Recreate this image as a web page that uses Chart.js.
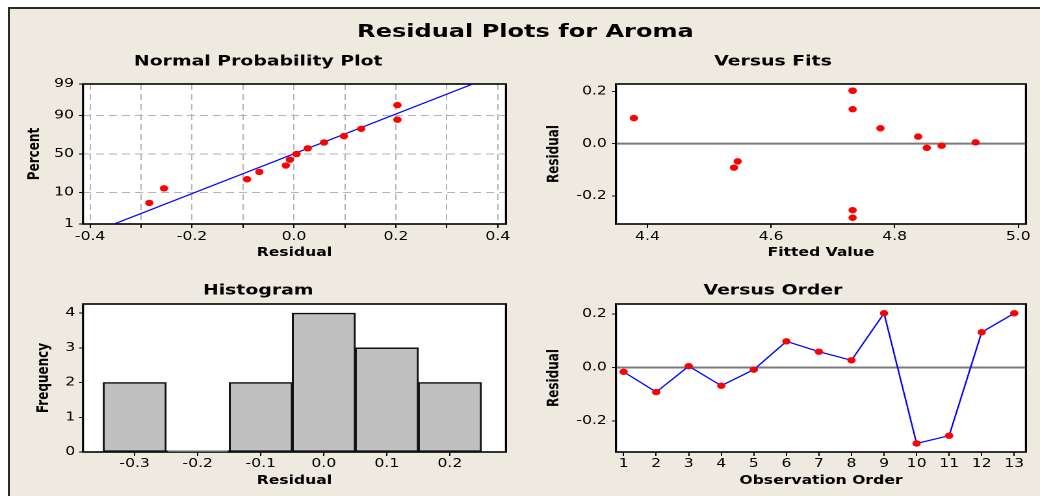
<!DOCTYPE html>
<html>
<head>
<meta charset="utf-8">
<script src="https://cdn.jsdelivr.net/npm/chart.js@4.4.1/dist/chart.umd.min.js"></script>
<style>
    html, body { margin: 0; padding: 0; background: #fff; overflow: hidden; width: 1040px; height: 496px; }
    #frame { position: absolute; left: 8px; top: 7px; width: 1100px; height: 600px; background: #eeeae0;
             border-top: 2px solid #2a2a2a; border-left: 2px solid #2a2a2a; }
    /* the whole sheet is drawn narrow and stretched sideways, like the source picture */
    #sheet { position: absolute; left: 0; top: 0; width: 800px; height: 496px; transform: scaleX(1.3); transform-origin: 0 0; }
    #sheet canvas { position: absolute; }
    #title { position: absolute; left: 0; width: 808.4px; top: 19.6px; text-align: center; color: #000;
             font: bold 18.5px/22px "DejaVu Sans", Verdana, sans-serif; }
</style>
</head>
<body>
<div id="frame"></div>
<div id="sheet">
    <div id="title">Residual Plots for Aroma</div>
    <canvas id="npp" width="390" height="225" style="left:8px;top:40px"></canvas>
    <canvas id="fits" width="400" height="225" style="left:400px;top:40px"></canvas>
    <canvas id="hist" width="390" height="228" style="left:8px;top:268px"></canvas>
    <canvas id="order" width="400" height="228" style="left:400px;top:268px"></canvas>
</div>
<script>
// residuals in observation order
var observation = [1, 2, 3, 4, 5, 6, 7, 8, 9, 10, 11, 12, 13];
var residual = [-0.016, -0.092, 0.005, -0.068, -0.008, 0.098, 0.059, 0.027, 0.203, -0.284, -0.255, 0.132, 0.203];
var fitted = [4.852, 4.540, 4.931, 4.546, 4.876, 4.378, 4.777, 4.838, 4.732, 4.732, 4.732, 4.732, 4.732];

// percent for the sorted residuals on the probability plot
var nppPercent = [5.2, 12.7, 20.1, 27.6, 35.1, 42.5, 50.0, 57.5, 64.9, 72.4, 79.9, 87.3, 94.8];
var fitLineResidual = [-0.353, 0.351];
var fitLinePercent = [1, 99];

var histBins = [-0.3, -0.2, -0.1, 0.0, 0.1, 0.2];
var histCounts = [2, 0, 2, 4, 3, 2];

var percentTicks = [1, 10, 50, 90, 99];
var nppResidualTicks = [-0.4, -0.3, -0.2, -0.1, 0, 0.1, 0.2, 0.3, 0.4];
var fittedTicks = [4.4, 4.6, 4.8, 5.0];
var residualTicks = [-0.2, 0, 0.2];
var histTicks = [-0.3, -0.2, -0.1, 0, 0.1, 0.2];
var frequencyTicks = [0, 1, 2, 3, 4];

Chart.defaults.font.family = "'DejaVu Sans', Verdana, sans-serif";
Chart.defaults.font.size = 12;
Chart.defaults.color = "#000";

// inverse normal cdf, for the probability axis
function probit(p) {
    var a = [-3.969683028665376e+01, 2.209460984245205e+02, -2.759285104469687e+02, 1.383577518672690e+02, -3.066479806614716e+01, 2.506628277459239e+00];
    var b = [-5.447609879822406e+01, 1.615858368580409e+02, -1.556989798598866e+02, 6.680131188771972e+01, -1.328068155288572e+01];
    var c = [-7.784894002430293e-03, -3.223964580411365e-01, -2.400758277161838e+00, -2.549732539343734e+00, 4.374664141464968e+00, 2.938163982698783e+00];
    var d = [7.784695709041462e-03, 3.224671290700398e-01, 2.445134137142996e+00, 3.754408661907416e+00];
    var q, r;
    if (p < 0.02425) {
        q = Math.sqrt(-2 * Math.log(p));
        return (((((c[0] * q + c[1]) * q + c[2]) * q + c[3]) * q + c[4]) * q + c[5]) / ((((d[0] * q + d[1]) * q + d[2]) * q + d[3]) * q + 1);
    }
    if (p > 1 - 0.02425) {
        return -probit(1 - p);
    }
    q = p - 0.5;
    r = q * q;
    return (((((a[0] * r + a[1]) * r + a[2]) * r + a[3]) * r + a[4]) * r + a[5]) * q / (((((b[0] * r + b[1]) * r + b[2]) * r + b[3]) * r + b[4]) * r + 1);
}

function pct(p) {
    return probit(p / 100);
}

// white plot area with a black frame, optional grey zero line
var plotFrame = {
    id: "plotFrame",
    beforeDraw: function (chart) {
        var a = chart.chartArea;
        chart.ctx.save();
        chart.ctx.fillStyle = "#fff";
        chart.ctx.fillRect(a.left, a.top, a.right - a.left, a.bottom - a.top);
        chart.ctx.restore();
    },
    beforeDatasetsDraw: function (chart, args, opts) {
        var ctx = chart.ctx;
        var a = chart.chartArea;
        ctx.save();
        if (opts.zeroLine) {
            var y = chart.scales.y.getPixelForValue(0);
            ctx.strokeStyle = "#7a7a7a";
            ctx.lineWidth = 2;
            ctx.beginPath();
            ctx.moveTo(a.left, y);
            ctx.lineTo(a.right, y);
            ctx.stroke();
        }
        ctx.strokeStyle = "#000";
        ctx.lineWidth = 1.6;
        ctx.strokeRect(a.left, a.top, a.right - a.left, a.bottom - a.top);
        ctx.restore();
    },
};

function axis(o) {
    return {
        type: "linear",
        min: o.min,
        max: o.max,
        offset: false,
        afterBuildTicks: function (s) {
            s.ticks = o.ticks.map(function (v) { return { value: v }; });
        },
        afterFit: function (s) {
            if (o.width) s.width = o.width;
            if (o.height) s.height = o.height;
        },
        ticks: {
            autoSkip: false,
            maxRotation: 0,
            minRotation: 0,
            padding: o.pad,
            color: "#000",
            font: { size: 12 },
            callback: o.label,
        },
        grid: {
            display: true,
            drawOnChartArea: !!o.gridLines,
            color: "#b4b4b4",
            lineWidth: 1,
            tickLength: o.tick,
            tickColor: "#000",
            tickWidth: 1,
            offset: false,
        },
        border: { display: false, dash: [6, 4] },
        title: {
            display: true,
            text: o.title,
            color: "#000",
            font: { size: 12, weight: "bold" },
            padding: o.titlePad,
        },
    };
}

function oneDecimal(v) {
    return Number(v).toFixed(1);
}

function baseOptions(title, titlePad, padRight, scales, frameOpts) {
    return {
        responsive: false,
        animation: false,
        devicePixelRatio: 2,
        events: [],
        layout: { padding: { left: 0, right: padRight, top: 0, bottom: 0 } },
        scales: scales,
        plugins: {
            legend: { display: false },
            tooltip: { enabled: false },
            title: {
                display: true,
                text: title,
                color: "#000",
                font: { size: 14.5, weight: "bold" },
                padding: titlePad,
            },
            plotFrame: frameOpts,
        },
    };
}

var sortedResidual = residual.slice().sort(function (a, b) { return a - b; });

var ctx = document.getElementById("npp");
var graphicNpp = new Chart(ctx, {
    type: "scatter",
    data: {
        datasets: [
            {
                data: sortedResidual.map(function (r, i) { return { x: r, y: pct(nppPercent[i]) }; }),
                pointRadius: 3.2,
                pointBackgroundColor: "#ff0000",
                pointBorderWidth: 0,
            },
            {
                data: fitLineResidual.map(function (r, i) { return { x: r, y: pct(fitLinePercent[i]) }; }),
                showLine: true,
                borderColor: "#0000ff",
                borderWidth: 1.2,
                pointRadius: 0,
            },
        ],
    },
    options: baseOptions("Normal Probability Plot", { top: 13, bottom: 13.6 }, 8.8, {
        x: axis({
            min: -0.414, max: 0.416, ticks: nppResidualTicks, height: 41, pad: 1.5, tick: 4, gridLines: true,
            title: "Residual", titlePad: { top: 0, bottom: 4.8 },
            label: function (v) { return Math.abs(Math.round(v * 10)) % 2 === 0 ? oneDecimal(v) : ""; },
        }),
        y: axis({
            min: pct(percentTicks[0]), max: pct(percentTicks[percentTicks.length - 1]),
            ticks: percentTicks.map(pct), width: 55.85, pad: 4, tick: 3, gridLines: true,
            title: "Percent", titlePad: { top: 11.7, bottom: 0 },
            label: function (v, i) { return String(percentTicks[i]); },
        }),
    }, {}),
    plugins: [plotFrame],
});

var ctx2 = document.getElementById("fits");
var graphicFits = new Chart(ctx2, {
    type: "scatter",
    data: {
        datasets: [
            {
                data: fitted.map(function (f, i) { return { x: f, y: residual[i] }; }),
                pointRadius: 3.2,
                pointBackgroundColor: "#ff0000",
                pointBorderWidth: 0,
            },
        ],
    },
    options: baseOptions("Versus Fits", { top: 13, bottom: 13.6 }, 10.8, {
        x: axis({
            min: 4.349, max: 5.0125, ticks: fittedTicks, height: 41, pad: 1.5, tick: 4,
            title: "Fitted Value", titlePad: { top: 0, bottom: 4.8 }, label: oneDecimal,
        }),
        y: axis({
            min: -0.308, max: 0.2286, ticks: residualTicks, width: 73.8, pad: 4, tick: 3,
            title: "Residual", titlePad: { top: 19.3, bottom: 0 }, label: oneDecimal,
        }),
    }, { zeroLine: true }),
    plugins: [plotFrame],
});

var ctx3 = document.getElementById("hist");
var graphicHist = new Chart(ctx3, {
    type: "bar",
    data: {
        datasets: [
            {
                data: histBins.map(function (b, i) { return { x: b, y: histCounts[i] }; }),
                backgroundColor: "#c0c0c0",
                borderColor: "#111",
                borderWidth: 1.5,
                borderSkipped: false,
                minBarLength: 1.2,
                barPercentage: 1,
                categoryPercentage: 1,
            },
        ],
    },
    options: baseOptions("Histogram", { top: 14, bottom: 4.6 }, 8.8, {
        x: axis({
            min: -0.382, max: 0.289, ticks: histTicks, height: 44, pad: 0.5, tick: 4,
            title: "Residual", titlePad: { top: 0, bottom: 8.1 }, label: oneDecimal,
        }),
        y: axis({
            min: 0, max: 4.26, ticks: frequencyTicks, width: 55.85, pad: 3, tick: 3,
            title: "Frequency", titlePad: { top: 18.6, bottom: 0 },
            label: function (v) { return String(v); },
        }),
    }, {}),
    plugins: [plotFrame],
});

var ctx4 = document.getElementById("order");
var graphicOrder = new Chart(ctx4, {
    type: "scatter",
    data: {
        datasets: [
            {
                data: observation.map(function (n, i) { return { x: n, y: residual[i] }; }),
                showLine: true,
                borderColor: "#0000ff",
                borderWidth: 1.2,
                pointRadius: 3.2,
                pointBackgroundColor: "#ff0000",
                pointBorderWidth: 0,
            },
        ],
    },
    options: baseOptions("Versus Order", { top: 14, bottom: 4.6 }, 10.8, {
        x: axis({
            min: 0.764, max: 13.36, ticks: observation, height: 44, pad: 0.5, tick: 4,
            title: "Observation Order", titlePad: { top: 0, bottom: 8.1 },
            label: function (v) { return String(v); },
        }),
        y: axis({
            min: -0.316, max: 0.2375, ticks: residualTicks, width: 73.8, pad: 4, tick: 3,
            title: "Residual", titlePad: { top: 19, bottom: 0 }, label: oneDecimal,
        }),
    }, { zeroLine: true }),
    plugins: [plotFrame],
});
</script>
</body>
</html>
